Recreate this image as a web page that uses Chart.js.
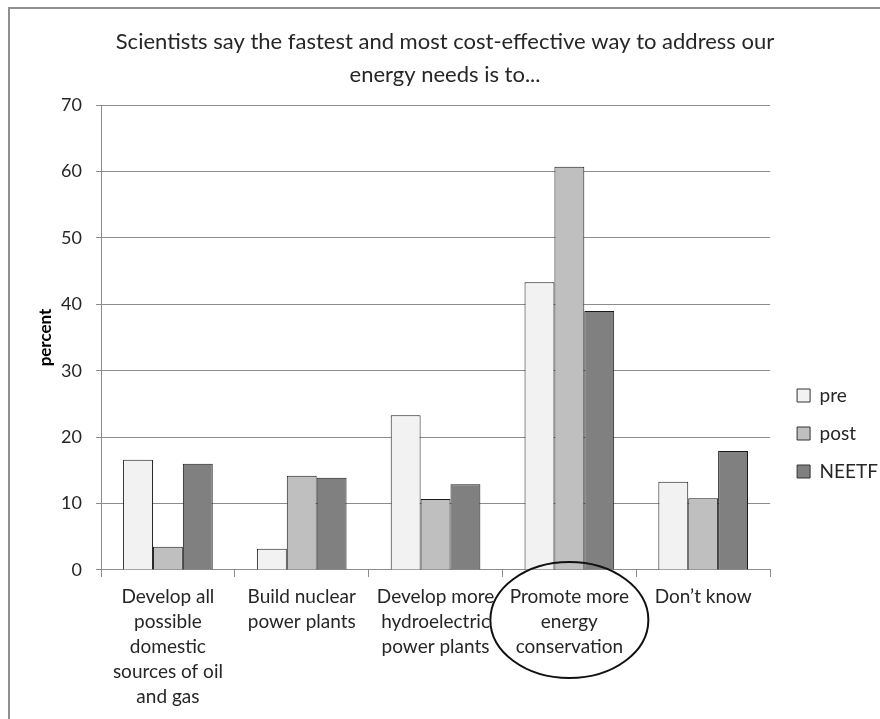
<!DOCTYPE html>
<html>
<head>
<meta charset="utf-8">
<script src="https://cdn.jsdelivr.net/npm/chart.js@4/dist/chart.umd.min.js"></script>
<style>
  html, body { margin: 0; padding: 0; background: #fff; }
  #wrap { position: relative; width: 880px; height: 719px; overflow: hidden; }
  #frame { position: absolute; left: 8px; top: 7px; width: 900px; height: 800px;
           border-left: 2px solid #8f8f8f; border-top: 2px solid #8f8f8f; box-sizing: border-box; }
  canvas { position: absolute; left: 0; top: 0; }
</style>
</head>
<body>
<div id="wrap">
  <div id="frame"></div>
  <canvas id="chart" width="880" height="719"></canvas>
</div>
<script>
// Survey answers, share of respondents (%)
const categories = [
  ["Develop all", "possible", "domestic", "sources of oil", "and gas"],
  ["Build nuclear", "power plants"],
  ["Develop more", "hydroelectric", "power plants"],
  ["Promote more", "energy", "conservation"],
  ["Don\u2019t know"]
];
const pre   = [16.6, 3.2, 23.3, 43.3, 13.3];
const post  = [3.5, 14.2, 10.7, 60.7, 10.8];
const neetf = [16.0, 13.9, 12.9, 39.0, 17.9];
const titleLines = ["Scientists say the fastest and most cost-effective way to address our", "energy needs is to..."];
const yTicks = { min: 0, max: 70, step: 10 };
const highlightIndex = 3;   // answer circled on the chart

const FONT = "Lato, 'Open Sans', sans-serif";
const TEXT = "#262626";
const AXIS = "#8c8c8c";

// Oval drawn around the highlighted answer's label
const circleLabel = {
  id: "circleLabel",
  afterDraw(chart) {
    const x = chart.scales.x;
    const cx = x.getPixelForValue(highlightIndex);
    const cy = chart.chartArea.bottom + 50;
    const ctx = chart.ctx;
    ctx.save();
    ctx.beginPath();
    ctx.ellipse(cx, cy, 79, 58, 0, 0, Math.PI * 2);
    ctx.lineWidth = 2;
    ctx.strokeStyle = "#111";
    ctx.stroke();
    ctx.restore();
  }
};

// Nudge the legend a little away from the plot and lower down
const legendNudge = {
  id: "legendNudge",
  afterLayout(chart) {
    const lg = chart.legend;
    if (!lg) return;
    const dx = 8, dy = 63;
    lg.left += dx; lg.right += dx;
    lg.top += dy; lg.bottom += dy;
  }
};

new Chart(document.getElementById("chart"), {
  type: "bar",
  data: {
    labels: categories,
    datasets: [
      { label: "pre",   data: pre,   backgroundColor: "#f2f2f2", borderColor: "#1a1a1a", borderWidth: 1 },
      { label: "post",  data: post,  backgroundColor: "#bfbfbf", borderColor: "#1a1a1a", borderWidth: 1 },
      { label: "NEETF", data: neetf, backgroundColor: "#808080", borderColor: "#1a1a1a", borderWidth: 1 }
    ]
  },
  options: {
    responsive: false,
    animation: false,
    layout: { padding: { left: 10, right: 0, top: 25, bottom: 3 } },
    datasets: { bar: { categoryPercentage: 0.67, barPercentage: 1.0 } },
    plugins: {
      title: {
        display: true,
        text: titleLines,
        color: TEXT,
        font: { family: FONT, size: 22, weight: "normal", lineHeight: 1.5 },
        padding: { top: 0, bottom: 14 }
      },
      legend: {
        position: "right",
        labels: {
          color: TEXT,
          font: { family: FONT, size: 19 },
          boxWidth: 13,
          boxHeight: 13,
          padding: 19,
          generateLabels(chart) {
            return chart.data.datasets.map((d, i) => ({
              text: d.label,
              fillStyle: d.backgroundColor,
              strokeStyle: "#333",
              lineWidth: 1,
              datasetIndex: i,
              fontColor: TEXT
            }));
          }
        }
      },
      tooltip: { enabled: false }
    },
    scales: {
      x: {
        grid: { display: true, drawOnChartArea: false, color: AXIS, tickLength: 7, offset: true },
        border: { color: AXIS, width: 1 },
        ticks: {
          color: TEXT,
          font: { family: FONT, size: 19, lineHeight: 1.316 },
          maxRotation: 0,
          autoSkip: false,
          padding: 7
        }
      },
      y: {
        min: yTicks.min,
        max: yTicks.max,
        afterFit(scale) { scale.width = 91; },
        grid: { color: AXIS, tickLength: 5 },
        border: { color: AXIS, width: 1 },
        ticks: {
          stepSize: yTicks.step,
          color: TEXT,
          font: { family: FONT, size: 18 },
          padding: 14
        },
        title: {
          display: true,
          text: "percent",
          color: "#000",
          font: { family: FONT, size: 17, weight: "bold" },
          padding: { top: 25, bottom: 0 }
        }
      }
    }
  },
  plugins: [circleLabel, legendNudge]
});
</script>
</body>
</html>
